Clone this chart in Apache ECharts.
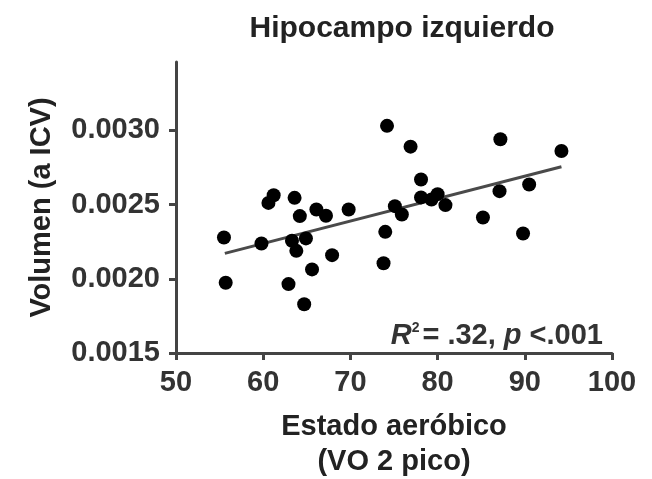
<!doctype html>
<html>
<head>
<meta charset="UTF-8">
<title>Hipocampo izquierdo</title>
<script src="https://cdn.jsdelivr.net/npm/echarts@6/dist/echarts.min.js"></script>
<style>
  html, body { margin: 0; padding: 0; background: #fff; }
  #main { width: 652px; height: 479px; }
</style>
</head>
<body>
<div id="main"></div>
<script>
// VO2 pico (x) y volumen relativo a ICV (y)
var vo2 = [74.2, 76.9, 61.2, 60.6, 63.6, 64.2, 66.1, 67.2, 69.8, 55.5, 59.8,
           63.3, 63.8, 64.9, 67.9, 65.6, 55.7, 62.9, 64.7, 74.0, 73.8, 75.1,
           75.9, 87.2, 94.2, 78.1, 78.1, 79.3, 80.0, 80.9, 85.2, 87.1, 90.5, 89.8];
var volumen = [0.00303, 0.00289, 0.002563, 0.002511, 0.002545, 0.002422, 0.002467,
               0.002424, 0.002467, 0.002278, 0.002238, 0.002256, 0.002188, 0.002272,
               0.002159, 0.002063, 0.001973, 0.001964, 0.001828, 0.002316, 0.002104,
               0.002489, 0.002433, 0.00294, 0.002861, 0.002669, 0.002548, 0.002534,
               0.00257, 0.002496, 0.002413, 0.00259, 0.002635, 0.002305];
// recta de regresion (extremos)
var lineaX = [55.6, 94.2];
var lineaY = [0.002171, 0.002754];
var yTicks = [0.0015, 0.0020, 0.0025, 0.0030];

var puntos = vo2.map(function (x, i) { return [x, volumen[i]]; });
var recta = lineaX.map(function (x, i) { return [x, lineaY[i]]; });

var font = 'Liberation Sans, Arial, sans-serif';
var fs = 29;
var myChart = echarts.init(document.getElementById('main'));

var option = {
  backgroundColor: '#fff',
  animation: false,
  title: [{
    text: 'Hipocampo izquierdo',
    left: 397,
    textAlign: 'center',
    top: 9,
    textStyle: { fontFamily: font, fontSize: 30, fontWeight: 'bold', color: '#222' }
  }, {
    text: '{i|R}{s|2}{n|= .32, }{i|p}{n| <.001}',
    right: 44,
    top: 316,
    textStyle: {
      rich: {
        i: { fontFamily: font, fontSize: fs, fontWeight: 'bold', fontStyle: 'italic', color: '#333' },
        n: { fontFamily: font, fontSize: fs, fontWeight: 'bold', color: '#333' },
        s: { fontFamily: font, fontSize: 14, fontWeight: 'bold', color: '#333', verticalAlign: 'top', padding: [0, 3, 13, 0] }
      }
    }
  }],
  grid: { left: 176, right: 40, top: 62, bottom: 126, outerBoundsMode: 'none' },
  xAxis: {
    type: 'value',
    min: 50,
    max: 100,
    interval: 10,
    name: 'Estado aeróbico\n(VO 2 pico)',
    nameLocation: 'middle',
    nameGap: 56,
    nameTextStyle: { fontFamily: font, fontSize: fs, fontWeight: 'bold', color: '#222', lineHeight: 35 },
    axisLine: { lineStyle: { color: '#444', width: 3 } },
    axisTick: { show: true, inside: false, length: 7, lineStyle: { color: '#444', width: 3 } },
    axisLabel: { fontFamily: font, fontSize: fs, fontWeight: 'bold', color: '#333', margin: 15 },
    splitLine: { show: false }
  },
  yAxis: {
    type: 'value',
    min: 0.0015,
    max: 0.00346,
    name: 'Volumen (a ICV)',
    nameLocation: 'middle',
    nameGap: 120,
    nameTextStyle: { fontFamily: font, fontSize: fs, fontWeight: 'bold', color: '#222' },
    axisLine: { show: true, lineStyle: { color: '#444', width: 3 } },
    axisTick: { show: true, length: 7, customValues: yTicks, lineStyle: { color: '#444', width: 3 } },
    axisLabel: {
      fontFamily: font, fontSize: fs, fontWeight: 'bold', color: '#333', margin: 16,
      customValues: yTicks,
      formatter: function (v) { return v.toFixed(4); }
    },
    splitLine: { show: false }
  },
  series: [{
    type: 'line',
    data: recta,
    showSymbol: false,
    lineStyle: { color: '#4a4a4a', width: 3 },
    z: 1
  }, {
    type: 'scatter',
    data: puntos,
    symbolSize: 14,
    itemStyle: { color: '#000', opacity: 1 },
    z: 2
  }]
};
myChart.setOption(option);
</script>
</body>
</html>
